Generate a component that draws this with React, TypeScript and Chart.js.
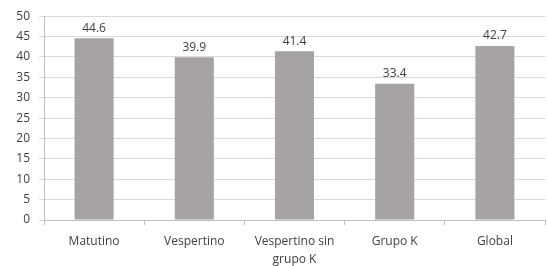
import React, { useEffect, useRef } from "react";
import { Chart, registerables } from "chart.js";

Chart.register(...registerables);

const categories: (string | string[])[] = ["Matutino", "Vespertino", ["Vespertino sin", "grupo K"], "Grupo K", "Global"];
const values: number[] = [44.6, 39.9, 41.4, 33.4, 42.7];
const yTicks: number[] = [0, 5, 10, 15, 20, 25, 30, 35, 40, 45, 50];

const FONT = "'Open Sans', 'Liberation Sans', sans-serif";

const dataLabels = {
  id: "dataLabels",
  afterDatasetsDraw(chart: any) {
    const ctx = chart.ctx;
    const meta = chart.getDatasetMeta(0);
    ctx.save();
    ctx.font = `12px ${FONT}`;
    ctx.fillStyle = "#404040";
    ctx.textAlign = "center";
    ctx.textBaseline = "bottom";
    meta.data.forEach((el: any, i: number) => {
      ctx.fillText(String(values[i].toFixed(1)), el.x, el.y - 4);
    });
    ctx.restore();
  },
};

export default function App() {
  const ref = useRef<HTMLCanvasElement>(null);
  useEffect(() => {
    document.body.style.margin = "0";
    const chart = new Chart(ref.current!, {
      type: "bar",
      data: {
        labels: categories,
        datasets: [
          {
            data: values,
            backgroundColor: "#a7a3a3",
            barPercentage: 0.39,
            categoryPercentage: 1,
          },
        ],
      },
      options: {
        animation: false,
        responsive: false,
        maintainAspectRatio: false,
        layout: { padding: { top: 16, right: 2, left: 0, bottom: 0 } },
        plugins: { legend: { display: false }, tooltip: { enabled: false } },
        scales: {
          x: {
            afterFit: (s: any) => {
              s.height = 46;
            },
            grid: {
              offset: true,
              drawOnChartArea: false,
              drawTicks: true,
              tickLength: 5,
              color: "#bfbfbf",
            },
            border: { color: "#bfbfbf" },
            ticks: {
              color: "#404040",
              font: { family: FONT, size: 12, lineHeight: 1.5 },
              padding: 8,
              maxRotation: 0,
              autoSkip: false,
            },
          },
          y: {
            min: 0,
            max: 50,
            afterFit: (s: any) => {
              s.width = 44;
            },
            afterBuildTicks: (s: any) => {
              s.ticks = yTicks.map((v) => ({ value: v }));
            },
            grid: { color: "#d9d9d9", tickLength: 5 },
            border: { color: "#bfbfbf" },
            ticks: {
              color: "#404040",
              font: { family: FONT, size: 12 },
              padding: 9,
            },
          },
        },
      },
      plugins: [dataLabels],
    });
    return () => chart.destroy();
  }, []);
  return (
    <div style={{ position: "absolute", left: 0, top: 0, width: 547, height: 266 }}>
      <canvas ref={ref} width={547} height={266} />
    </div>
  );
}
